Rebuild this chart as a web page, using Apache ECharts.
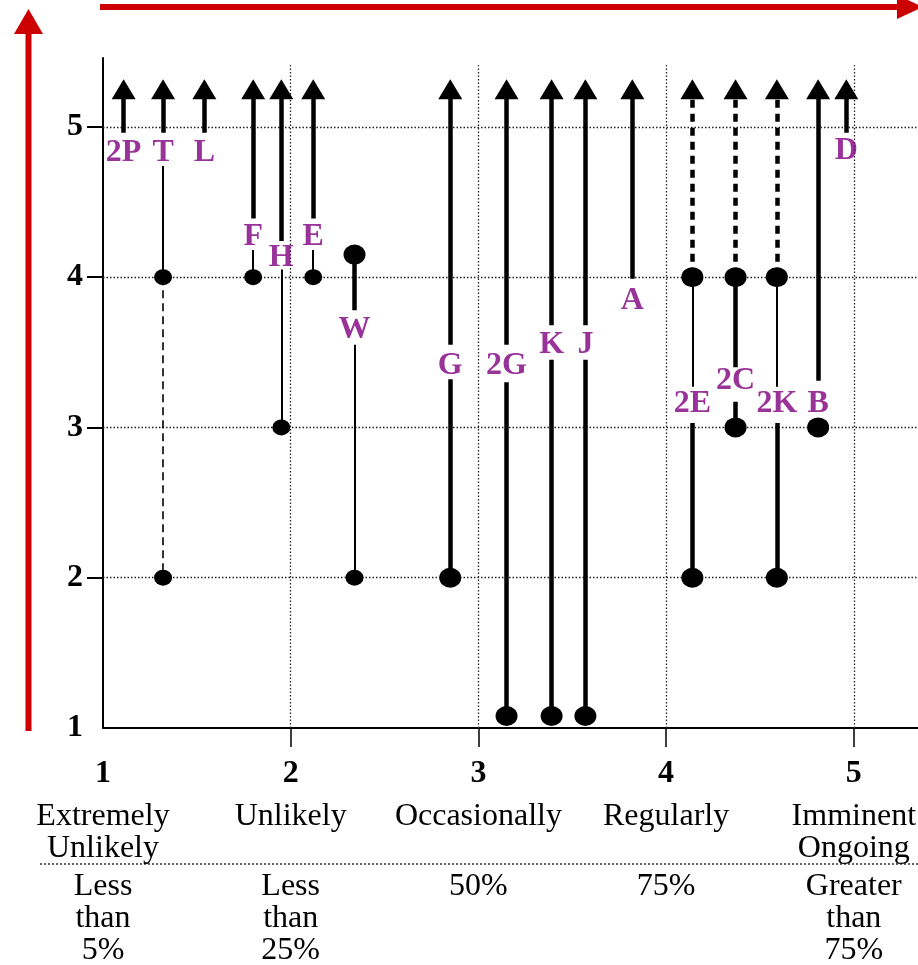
<!DOCTYPE html>
<html><head><meta charset="utf-8">
<script src="https://cdn.jsdelivr.net/npm/echarts@6/dist/echarts.min.js"></script>
<style>html,body{margin:0;padding:0;background:#fff}#c{width:918px;height:965px}</style>
</head><body><div id="c"></div>
<script>
// ---- data ----
const names  = ['2P','T','L','F','H','E','W','G','2G','K','J','A','2E','2C','2K','B','D'];
const xPos   = [1.11,1.32,1.54,1.80,1.95,2.12,2.34,2.85,3.15,3.39,3.57,3.82,4.14,4.37,4.59,4.81,4.96];
const labelY = [4.83,4.83,4.83,4.27,4.13,4.27,3.65,3.41,3.41,3.55,3.55,3.84,3.16,3.31,3.16,3.16,4.84];
const arrowNames = ['2P','T','L','F','H','E','G','2G','K','J','A','2E','2C','2K','B','D'];
const arrowY = 5.25;
// segments: [item, fromY, toY]
const thickSegs = [['2P',4.96,5.2],['T',4.96,5.2],['L',4.96,5.2],['F',4.39,5.2],['H',4.24,5.2],['E',4.39,5.2],
  ['W',4.15,3.78],['G',3.55,5.2],['G',3.32,2],['2G',3.55,5.2],['2G',3.30,1.08],['K',3.68,5.2],['K',3.45,1.08],
  ['J',3.68,5.2],['J',3.45,1.08],['A',3.99,5.2],['2E',3.03,2],['2C',4,3.40],['2C',3.17,3],['2K',3.03,2],
  ['B',3.31,5.2],['D',4.96,5.2]];
const thinSegs = [['T',4.74,4],['F',4.18,4],['H',4.05,3],['E',4.18,4],['W',3.55,2],['2E',4,3.27],['2K',4,3.27]];
const thinDashSegs = [['T',4,2]];
const thickDashSegs = [['2E',5.18,4],['2C',5.18,4],['2K',5.18,4]];
const smallDots = [['T',4],['T',2],['F',4],['H',3],['E',4],['W',2]];
const bigDots = [['W',4.15],['G',2],['2G',1.08],['K',1.08],['J',1.08],['2E',4],['2E',2],['2C',4],['2C',3],['2K',4],['2K',2],['B',3]];
// tick labels
const levels     = [1,2,3,4,5];
const levelNames = ['Extremely\nUnlikely','Unlikely','Occasionally','Regularly','Imminent\nOngoing'];
const levelPct   = ['Less\nthan\n5%','Less\nthan\n25%','50%','75%','Greater\nthan\n75%'];
const gridTicks  = [2,3,4,5];

// ---- build ----
const FONT = 'Liberation Serif';
const X_MIN = 1, X_MAX = 5.342, Y_MIN = 1, Y_MAX = 5.458, V_GRID_TOP = 5.41;
const xOf = n => xPos[names.indexOf(n)];
const seg = list => list.map(s => ({coords: [[xOf(s[0]), s[1]], [xOf(s[0]), s[2]]]}));
const pts = list => list.map(p => [xOf(p[0]), p[1]]);
const ellipse = 'path://M0,50 A50,50 0 1,1 100,50 A50,50 0 1,1 0,50 Z';
const linesSeries = (data, width, type, color) => ({
  type: 'lines', coordinateSystem: 'cartesian2d', polyline: false, silent: true, z: 3,
  lineStyle: {color: color || '#000', width: width, type: type, opacity: 1, curveness: 0},
  data: data
});
const gridLines = gridTicks.map(v => ({coords: [[X_MIN, v], [X_MAX, v]]}))
  .concat(gridTicks.map(v => ({coords: [[v, Y_MIN], [v, V_GRID_TOP]]})));
const idx = v => levels.indexOf(Math.round(v));
const isLevel = v => Math.abs(v - Math.round(v)) < 1e-6 && idx(v) >= 0;
const textAxis = (margin, texts, bold) => ({
  type: 'value', min: X_MIN, max: X_MAX, interval: 1, position: 'bottom',
  axisLine: {show: false}, axisTick: {show: false}, splitLine: {show: false},
  axisLabel: {customValues: levels, margin: margin, fontFamily: FONT, fontSize: 32, fontWeight: bold ? 'bold' : 'normal',
    lineHeight: 32, color: '#000', align: 'center', verticalAlign: 'top',
    formatter: v => isLevel(v) ? texts[idx(v)] : ''}
});

const chart = echarts.init(document.getElementById('c'), null, {renderer: 'canvas'});
chart.setOption({
  animation: false,
  backgroundColor: '#fff',
  grid: {left: 103, top: 58, width: 815, height: 670, containLabel: false, outerBoundsMode: 'none'},
  xAxis: [{
    type: 'value', min: X_MIN, max: X_MAX, interval: 1, position: 'bottom',
    axisLine: {show: true, onZero: false, lineStyle: {color: '#000', width: 2}},
    axisTick: {show: true, length: 19, lineStyle: {color: '#000', width: 1.5}, customValues: gridTicks},
    axisLabel: {show: false},
    splitLine: {show: false}
  },
    textAxis(30, levels.map(String), true),
    textAxis(73, levelNames, false),
    textAxis(143, levelPct, false)
  ],
  yAxis: {
    type: 'value', min: Y_MIN, max: Y_MAX, interval: 1,
    axisLine: {show: true, onZero: false, lineStyle: {color: '#000', width: 2}},
    axisTick: {show: true, length: 16, lineStyle: {color: '#000', width: 2}, customValues: gridTicks},
    axisLabel: {customValues: levels, margin: 20, fontFamily: FONT, fontSize: 32, fontWeight: 'bold', color: '#000',
      formatter: v => isLevel(v) ? String(levels[idx(v)]) : ''},
    splitLine: {show: false}
  },
  series: [
    Object.assign(linesSeries(gridLines, 1.3, [1.5, 2], '#222'), {z: 1}),
    linesSeries(seg(thickSegs), 4.5, 'solid'),
    linesSeries(seg(thinSegs), 2, 'solid'),
    linesSeries(seg(thinDashSegs), 1.6, [8, 5]),
    linesSeries(seg(thickDashSegs), 4.5, [8, 6]),
    {type: 'scatter', silent: true, z: 4, symbol: ellipse, symbolSize: [18, 16], itemStyle: {color: '#000', opacity: 1}, data: pts(smallDots)},
    {type: 'scatter', silent: true, z: 4, symbol: ellipse, symbolSize: [22, 20], itemStyle: {color: '#000', opacity: 1}, data: pts(bigDots)},
    {type: 'scatter', silent: true, z: 4, symbol: 'triangle', symbolSize: [24, 20], itemStyle: {color: '#000', opacity: 1},
      data: arrowNames.map(n => [xOf(n), arrowY])},
    {type: 'scatter', silent: true, z: 5, symbol: 'circle', symbolSize: 1, itemStyle: {color: 'rgba(0,0,0,0)'},
      label: {show: true, position: 'inside', formatter: '{b}', color: '#800080', fontFamily: FONT, fontWeight: 'bold', fontSize: 32},
      data: names.map((n, i) => ({name: n, value: [xPos[i], labelY[i]]}))}
  ],
  graphic: [
    {type: 'line', shape: {x1: 28.5, y1: 731, x2: 28.5, y2: 30}, style: {stroke: '#cc0000', lineWidth: 6}},
    {type: 'polygon', shape: {points: [[14, 34], [43, 34], [28.5, 9]]}, style: {fill: '#cc0000'}},
    {type: 'line', shape: {x1: 100, y1: 7, x2: 900, y2: 7}, style: {stroke: '#cc0000', lineWidth: 6}},
    {type: 'polygon', shape: {points: [[897, -5], [897, 19], [923, 7]]}, style: {fill: '#cc0000'}},
    {type: 'line', shape: {x1: 40, y1: 864, x2: 918, y2: 864}, style: {stroke: '#000', lineWidth: 1.2, lineDash: [2, 2]}}
  ]
});
</script></body></html>
